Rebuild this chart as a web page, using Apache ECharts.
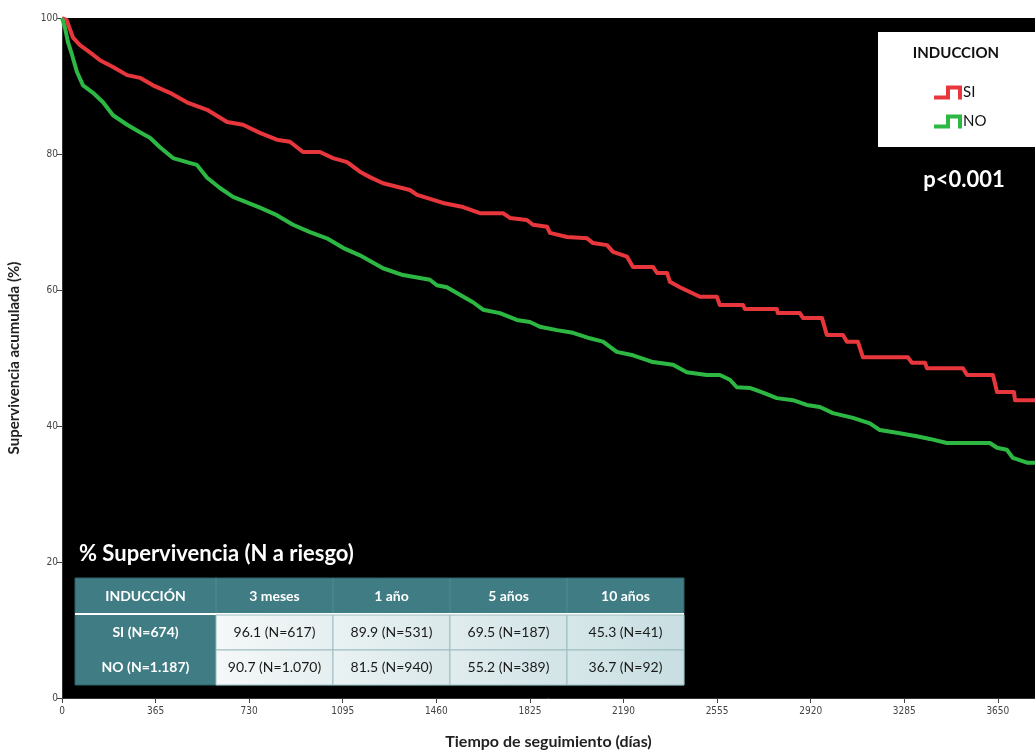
<!DOCTYPE html>
<html>
<head>
<meta charset="utf-8">
<script src="https://cdn.jsdelivr.net/npm/echarts@6/dist/echarts.min.js"></script>
<style>
  html, body { margin: 0; padding: 0; background: #ffffff; }
  #chart { width: 1035px; height: 753px; }
</style>
</head>
<body>
<div id="chart"></div>
<script>
// ---- Data ----
const xTicks = [0, 365, 730, 1095, 1460, 1825, 2190, 2555, 2920, 3285, 3650];
const yTicks = [0, 20, 40, 60, 80, 100];

const siDays = [0, 18, 43, 70, 121, 148, 199, 254, 304, 355, 421, 487, 566, 644, 706, 772, 838, 889, 940, 1006, 1057, 1112, 1162, 1201, 1252, 1357, 1385, 1486, 1564, 1630, 1720, 1747, 1813, 1837, 1892, 1903, 1970, 2048, 2071, 2126, 2149, 2204, 2227, 2305, 2321, 2360, 2371, 2410, 2449, 2488, 2554, 2566, 2656, 2664, 2788, 2792, 2878, 2890, 2964, 2983, 3046, 3061, 3104, 3124, 3299, 3315, 3366, 3374, 3514, 3530, 3631, 3647, 3713, 3717, 3795];
const siSurv = [100, 99.7, 97.1, 96.0, 94.6, 93.8, 92.8, 91.6, 91.2, 90.1, 89.0, 87.6, 86.5, 84.7, 84.3, 83.1, 82.1, 81.8, 80.3, 80.3, 79.4, 78.8, 77.4, 76.6, 75.7, 74.7, 74.0, 72.8, 72.2, 71.3, 71.3, 70.6, 70.3, 69.6, 69.3, 68.4, 67.8, 67.6, 66.9, 66.6, 65.6, 64.9, 63.4, 63.4, 62.5, 62.5, 61.2, 60.4, 59.7, 59.0, 59.0, 57.8, 57.8, 57.2, 57.2, 56.6, 56.6, 55.9, 55.9, 53.4, 53.4, 52.4, 52.4, 50.1, 50.1, 49.3, 49.3, 48.5, 48.5, 47.5, 47.5, 45.0, 45.0, 43.8, 43.8];

const noDays = [0, 12, 23, 39, 58, 82, 121, 160, 199, 254, 304, 343, 382, 433, 487, 526, 566, 616, 667, 721, 772, 838, 901, 967, 1033, 1096, 1162, 1252, 1330, 1435, 1462, 1501, 1552, 1603, 1642, 1708, 1774, 1825, 1864, 1930, 1993, 2059, 2110, 2164, 2227, 2305, 2383, 2437, 2515, 2566, 2605, 2632, 2683, 2734, 2788, 2851, 2905, 2956, 3007, 3085, 3151, 3190, 3256, 3334, 3385, 3451, 3619, 3647, 3685, 3709, 3764, 3795];
const noSurv = [100, 98.5, 96.5, 94.6, 92.1, 90.1, 89.0, 87.6, 85.7, 84.3, 83.2, 82.4, 81.0, 79.4, 78.8, 78.4, 76.5, 75.0, 73.7, 72.9, 72.1, 71.0, 69.6, 68.5, 67.6, 66.2, 65.1, 63.2, 62.2, 61.5, 60.7, 60.4, 59.3, 58.2, 57.1, 56.6, 55.6, 55.3, 54.6, 54.1, 53.7, 52.9, 52.4, 50.9, 50.4, 49.4, 49.0, 47.9, 47.5, 47.5, 46.8, 45.7, 45.6, 44.9, 44.1, 43.8, 43.1, 42.8, 41.9, 41.2, 40.4, 39.4, 39.0, 38.5, 38.1, 37.5, 37.5, 36.8, 36.5, 35.3, 34.6, 34.6];

const seriesNames = ['SI', 'NO'];
const legendTitle = 'INDUCCION';
const pValueText = 'p<0.001';

const tableTitle = '% Supervivencia (N a riesgo)';
const tableHeaders = ['INDUCCIÓN', '3 meses', '1 año', '5 años', '10 años'];
const tableRowLabels = ['SI (N=674)', 'NO (N=1.187)'];
const tableSI = ['96.1 (N=617)', '89.9 (N=531)', '69.5 (N=187)', '45.3 (N=41)'];
const tableNO = ['90.7 (N=1.070)', '81.5 (N=940)', '55.2 (N=389)', '36.7 (N=92)'];

// ---- Build ----
const zip = (a, b) => a.map((v, i) => [v, b[i]]);
const FONT = 'Lato, "Open Sans", sans-serif';
const NARROW = '"Liberation Sans Narrow", "DejaVu Sans Condensed", "Liberation Sans", sans-serif';

const stepIcon = 'path://M0,10 L12,10 L12,0 L28,0 L28,14 L24,14 L24,4 L16,4 L16,14 L0,14 Z';

// table layout
const colX = [75, 216, 333, 450, 567, 684];
const rowY = [578, 614, 650, 685];
const teal = '#3f7c83';
const cellGrad = [['#f5f8f8', '#e6eff0'], ['#eaf2f3', '#dae8ea'], ['#e0ecee', '#d2e4e6'], ['#d6e7e9', '#c8dee1']];
const tableGraphics = [];
tableGraphics.push({
  type: 'text', left: 79, top: 543,
  style: { text: tableTitle, fill: '#ffffff', font: 'bold 22px ' + FONT }
});
tableGraphics.push({
  type: 'rect', shape: { x: colX[0], y: rowY[0], width: colX[5] - colX[0], height: rowY[3] - rowY[0] },
  style: { fill: teal, stroke: '#2c6167', lineWidth: 1 }
});
tableHeaders.forEach((h, i) => {
  tableGraphics.push({
    type: 'text',
    style: { text: h, x: (colX[i] + colX[i + 1]) / 2, y: (rowY[0] + rowY[1]) / 2, align: 'center', verticalAlign: 'middle', fill: '#ffffff', font: 'bold 14px ' + FONT }
  });
  if (i > 0) {
    tableGraphics.push({ type: 'line', shape: { x1: colX[i], y1: rowY[0], x2: colX[i], y2: rowY[1] }, style: { stroke: '#4f8c92', lineWidth: 1 } });
  }
});
tableGraphics.push({ type: 'line', shape: { x1: colX[0], y1: rowY[1], x2: colX[5], y2: rowY[1] }, style: { stroke: '#ffffff', lineWidth: 2 } });
[tableSI, tableNO].forEach((row, r) => {
  const y0 = rowY[r + 1] + (r === 0 ? 1 : 0), y1 = rowY[r + 2];
  tableGraphics.push({
    type: 'text',
    style: { text: tableRowLabels[r], x: (colX[0] + colX[1]) / 2, y: (y0 + y1) / 2, align: 'center', verticalAlign: 'middle', fill: '#ffffff', font: 'bold 14px ' + FONT }
  });
  row.forEach((v, c) => {
    const x0 = colX[c + 1], x1 = colX[c + 2];
    tableGraphics.push({
      type: 'rect', shape: { x: x0, y: y0, width: x1 - x0, height: y1 - y0 },
      style: {
        fill: new echarts.graphic.LinearGradient(0, 0, 1, 0, [{ offset: 0, color: cellGrad[c][0] }, { offset: 1, color: cellGrad[c][1] }]),
        stroke: '#9dbdc0', lineWidth: 1
      }
    });
    tableGraphics.push({
      type: 'text',
      style: { text: v, x: (x0 + x1) / 2, y: (y0 + y1) / 2, align: 'center', verticalAlign: 'middle', fill: '#1a1a1a', font: '14px ' + FONT }
    });
  });
});

const chart = echarts.init(document.getElementById('chart'), null, { renderer: 'canvas' });
chart.setOption({
  backgroundColor: '#ffffff',
  animation: false,
  grid: { left: 62, right: 0, top: 18, bottom: 55, show: true, backgroundColor: '#000000', borderWidth: 0, containLabel: false, outerBoundsMode: 'none' },
  xAxis: {
    type: 'value', min: 0, max: 3795,
    name: 'Tiempo de seguimiento (días)', nameLocation: 'middle', nameGap: 36,
    nameTextStyle: { fontFamily: FONT, fontWeight: 'bold', fontSize: 16, color: '#222' },
    axisLine: { show: true, onZero: false, lineStyle: { color: '#333', width: 1 } },
    axisTick: { show: true, length: 5, lineStyle: { color: '#444' }, customValues: xTicks },
    axisLabel: { fontFamily: NARROW, fontSize: 10, color: '#444', margin: 8, customValues: xTicks, formatter: v => String(v) },
    splitLine: { show: false }
  },
  yAxis: {
    type: 'value', min: 0, max: 100, interval: 20,
    name: 'Supervivencia acumulada (%)', nameLocation: 'middle', nameGap: 40,
    nameTextStyle: { fontFamily: FONT, fontWeight: 'bold', fontSize: 15, color: '#222' },
    axisLine: { show: true, lineStyle: { color: '#333', width: 1 } },
    axisTick: { show: true, length: 5, lineStyle: { color: '#444' } },
    axisLabel: { fontFamily: NARROW, fontSize: 10, color: '#444', margin: 4, customValues: yTicks, formatter: v => String(v) },
    splitLine: { show: false }
  },
  legend: {
    data: seriesNames.map(n => ({ name: n, icon: stepIcon })),
    orient: 'vertical', left: 929, top: 80,
    itemWidth: 28, itemHeight: 15, itemGap: 14,
    textStyle: { color: '#111', fontSize: 15, fontFamily: FONT, padding: [0, 0, 0, -4] },
    selectedMode: false
  },
  graphic: [
    { type: 'rect', z: 0, shape: { x: 878, y: 32, width: 157, height: 115 }, style: { fill: '#ffffff' } },
    { type: 'text', style: { text: legendTitle, x: 956, y: 53, align: 'center', verticalAlign: 'middle', fill: '#111', font: 'bold 15px ' + FONT } },
    { type: 'text', style: { text: pValueText, x: 964, y: 180, align: 'center', verticalAlign: 'middle', fill: '#ffffff', font: 'bold 22px ' + FONT } }
  ].concat(tableGraphics),
  series: [
    { name: seriesNames[0], type: 'line', showSymbol: false, data: zip(siDays, siSurv), color: '#e8363d', lineStyle: { width: 4, color: '#e8363d', join: 'round' }, z: 3 },
    { name: seriesNames[1], type: 'line', showSymbol: false, data: zip(noDays, noSurv), color: '#2db843', lineStyle: { width: 4, color: '#2db843', join: 'round' }, z: 3 }
  ]
});
</script>
</body>
</html>
